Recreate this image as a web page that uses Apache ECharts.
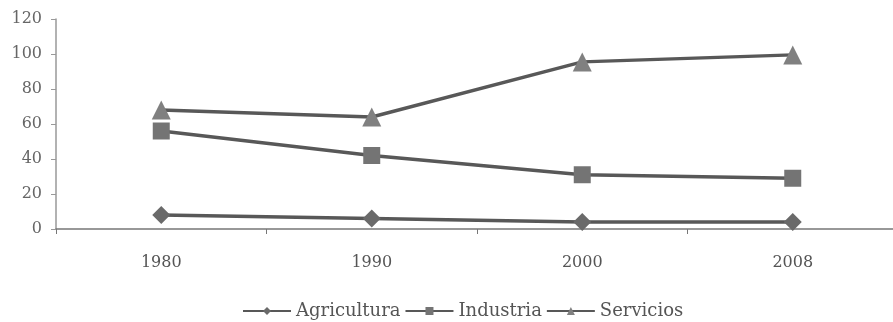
<!DOCTYPE html>
<html>
<head>
<meta charset="utf-8">
<script src="https://cdn.jsdelivr.net/npm/echarts@6/dist/echarts.min.js"></script>
<style>
  html, body { margin: 0; padding: 0; background: #fff; }
  #chart { width: 893px; height: 322px; }
</style>
</head>
<body>
<div id="chart"></div>
<script>
  const years = ['1980', '1990', '2000', '2008'];
  const agricultura = [8, 6, 4, 4];
  const industria = [56, 42, 31, 29];
  const servicios = [68, 64, 95.5, 99.5];
  const yTicks = [0, 20, 40, 60, 80, 100, 120];

  const chart = echarts.init(document.getElementById('chart'));
  const font = '"DejaVu Serif", "Liberation Serif", serif';
  const lineStyle = { color: '#585858', width: 3.5 };

  const option = {
    animation: false,
    textStyle: { fontFamily: font },
    grid: { left: 56, right: -5, top: 19, bottom: 93, outerBoundsMode: 'none' },
    legend: {
      top: 297,
      left: 237,
      itemWidth: 48,
      itemHeight: 10,
      itemGap: 4,
      textStyle: { fontFamily: font, fontSize: 18, color: '#555' },
      data: ['Agricultura', 'Industria', 'Servicios']
    },
    xAxis: {
      type: 'category',
      data: years,
      boundaryGap: true,
      axisLine: { lineStyle: { color: '#777', width: 1.5 } },
      axisTick: { show: true, length: 5, lineStyle: { color: '#777' } },
      axisLabel: { fontFamily: font, fontSize: 16, color: '#555', margin: 26 }
    },
    yAxis: {
      type: 'value',
      min: yTicks[0],
      max: yTicks[yTicks.length - 1],
      interval: 20,
      splitLine: { show: false },
      axisLine: { show: true, lineStyle: { color: '#999', width: 1.5 } },
      axisTick: { show: true, length: 5, lineStyle: { color: '#999' } },
      axisLabel: { fontFamily: font, fontSize: 16, color: '#666', margin: 14 }
    },
    series: [
      {
        name: 'Agricultura', type: 'line', data: agricultura,
        symbol: 'diamond', symbolSize: 18,
        lineStyle: lineStyle, itemStyle: { color: '#6a6a6a' }
      },
      {
        name: 'Industria', type: 'line', data: industria,
        symbol: 'rect', symbolSize: 17,
        lineStyle: lineStyle, itemStyle: { color: '#747474' }
      },
      {
        name: 'Servicios', type: 'line', data: servicios,
        symbol: 'triangle', symbolSize: 19,
        lineStyle: lineStyle, itemStyle: { color: '#808080' }
      }
    ]
  };
  chart.setOption(option);
</script>
</body>
</html>
